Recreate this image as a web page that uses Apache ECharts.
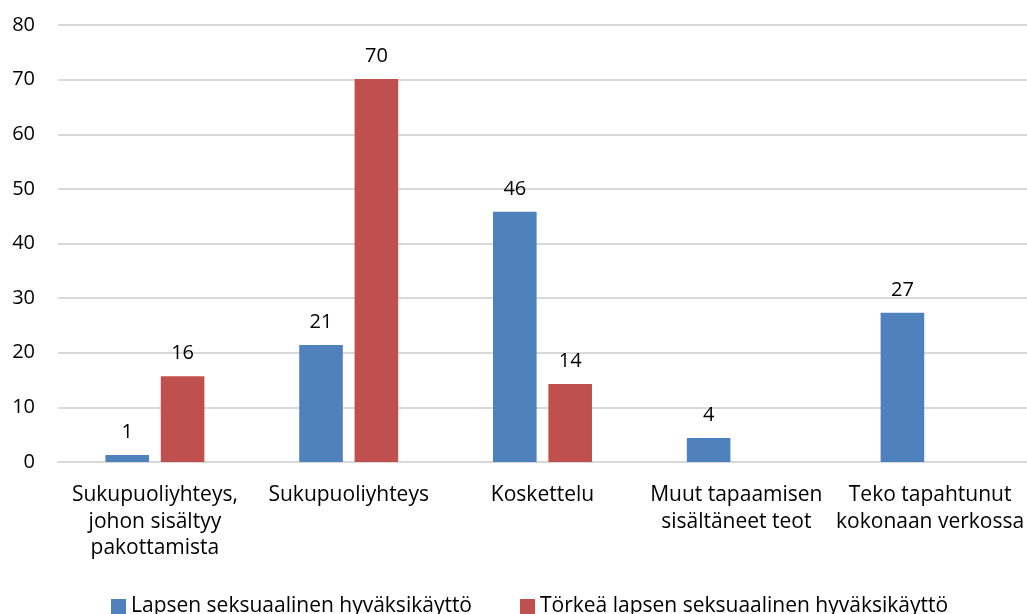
<!DOCTYPE html>
<html>
<head>
<meta charset="utf-8">
<script src="https://cdn.jsdelivr.net/npm/echarts@6/dist/echarts.min.js"></script>
<style>
  html, body { margin: 0; padding: 0; background: #fff; }
  #main { width: 1027px; height: 614px; }
</style>
</head>
<body>
<div id="main"></div>
<script>
// luokat ja sarjat
var categories = [
    'Sukupuoliyhteys,\njohon sisältyy\npakottamista',
    'Sukupuoliyhteys',
    'Koskettelu',
    'Muut tapaamisen\nsisältäneet teot',
    'Teko tapahtunut\nkokonaan verkossa'
];
var seriesNames = ['Lapsen seksuaalinen hyväksikäyttö', 'Törkeä lapsen seksuaalinen hyväksikäyttö'];
var lapsen = [1.3, 21.4, 45.8, 4.4, 27.3];
var torkea = [15.7, 70.1, 14.3, null, null];
var yTicks = [0, 10, 20, 30, 40, 50, 60, 70, 80];

var myChart = echarts.init(document.getElementById('main'));
var font = 'Open Sans';

var labelOpt = {
    show: true,
    position: 'top',
    distance: 13,
    color: '#000',
    fontSize: 20,
    fontFamily: font,
    formatter: function (p) { return Math.round(p.value); }
};

var option = {
    animation: false,
    textStyle: { fontFamily: font },
    grid: { left: 58, right: -6, top: 25, bottom: 152 },
    legend: {
        bottom: -8,
        left: 106,
        itemWidth: 15,
        itemHeight: 15,
        itemGap: 48,
        icon: 'rect',
        textStyle: { fontSize: 21, color: '#000', fontFamily: font },
        data: seriesNames
    },
    xAxis: {
        type: 'category',
        data: categories,
        axisLine: { lineStyle: { color: '#d9d9d9', width: 2 } },
        axisTick: { show: false },
        axisLabel: {
            interval: 0,
            margin: 20,
            color: '#000',
            fontSize: 21,
            lineHeight: 26.5,
            fontFamily: font
        }
    },
    yAxis: {
        type: 'value',
        min: yTicks[0],
        max: yTicks[yTicks.length - 1],
        interval: 10,
        axisLine: { show: false },
        axisTick: { show: false },
        splitLine: { lineStyle: { color: '#d9d9d9', width: 2 } },
        axisLabel: { color: '#000', fontSize: 20, margin: 23, fontFamily: font }
    },
    series: [
        {
            name: seriesNames[0],
            type: 'bar',
            data: lapsen,
            barWidth: '22.5%',
            barGap: '27%',
            itemStyle: { color: '#4F81BD' },
            label: labelOpt
        },
        {
            name: seriesNames[1],
            type: 'bar',
            data: torkea,
            barWidth: '22.5%',
            itemStyle: { color: '#C0504D' },
            label: labelOpt
        }
    ]
};

option && myChart.setOption(option);
</script>
</body>
</html>
